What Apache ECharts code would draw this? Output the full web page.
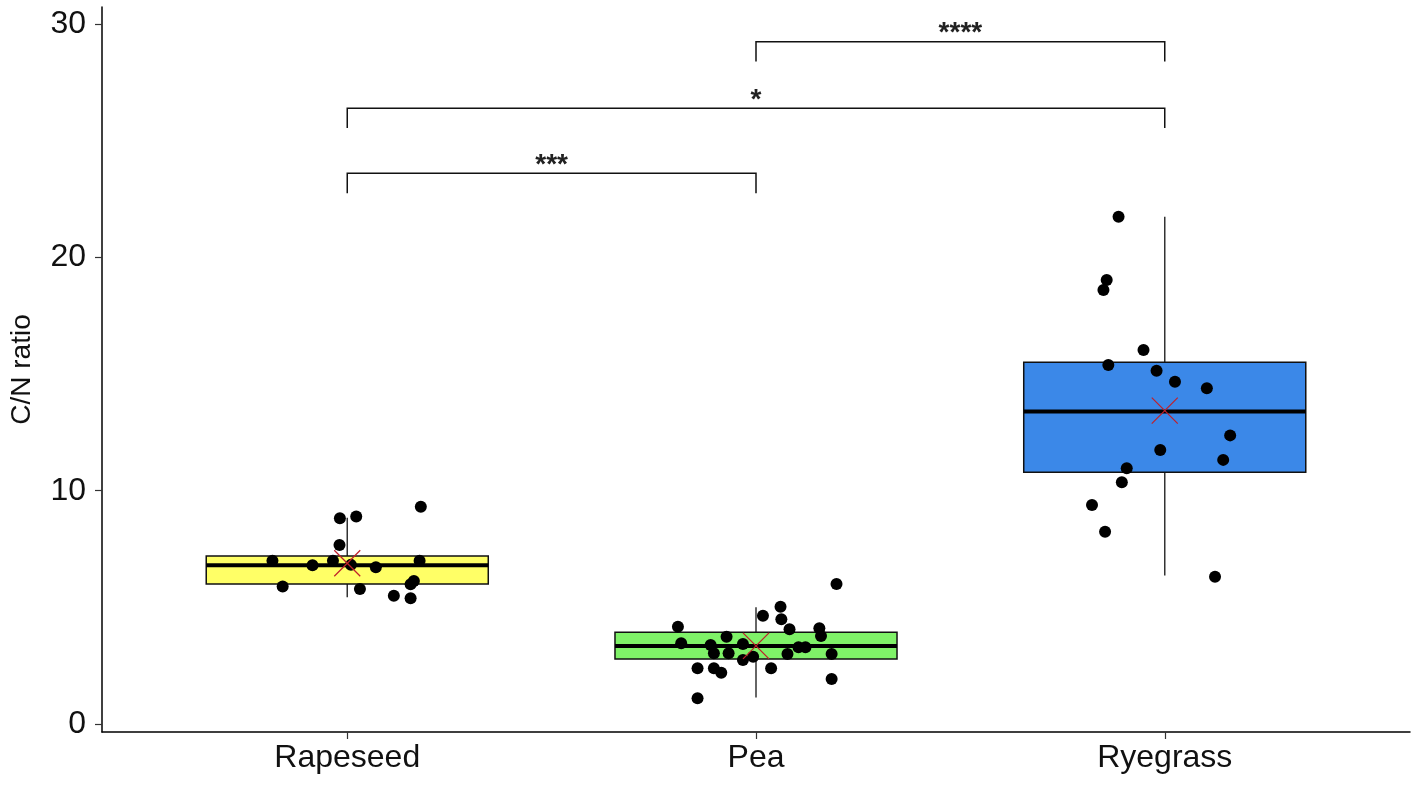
<!DOCTYPE html>
<html>
<head>
<meta charset="utf-8">
<script src="https://cdn.jsdelivr.net/npm/echarts@6/dist/echarts.min.js"></script>
<style>
  html, body { margin: 0; padding: 0; background: #fff; }
  #chart { width: 1418px; height: 792px; }
</style>
</head>
<body>
<div id="chart"></div>
<script>
const categories = ['Rapeseed', 'Pea', 'Ryegrass'];
const yTicks = [0, 10, 20, 30];

const rapeseedValues = [8.82, 8.89, 9.31, 7.67, 7.00, 6.80, 7.00, 6.82, 6.72, 7.00, 5.89, 5.79, 5.50, 5.99, 6.13, 5.39];
const rapeseedJitter = [-0.018, 0.022, 0.180, -0.019, -0.183, -0.085, -0.035, 0.009, 0.070, 0.177, -0.158, 0.031, 0.114, 0.155, 0.163, 0.155];

const peaValues = [6.00, 5.03, 4.64, 4.49, 4.17, 4.06, 4.10, 3.77, 3.74, 3.46, 3.39, 3.43, 3.03, 3.03, 3.00, 3.29, 3.29, 3.00, 2.88, 2.74, 2.39, 2.39, 2.20, 2.39, 1.93, 1.10];
const peaJitter = [0.197, 0.060, 0.017, 0.062, -0.191, 0.082, 0.155, 0.159, -0.072, -0.183, -0.111, -0.032, -0.103, -0.067, 0.077, 0.104, 0.121, 0.185, -0.007, -0.032, -0.143, -0.103, -0.085, 0.037, 0.185, -0.143];

const ryegrassValues = [21.74, 19.03, 18.60, 16.03, 15.39, 15.14, 14.67, 14.39, 12.37, 11.74, 11.32, 10.96, 10.36, 9.39, 8.24, 6.31];
const ryegrassJitter = [-0.113, -0.142, -0.150, -0.052, -0.138, -0.020, 0.025, 0.103, 0.160, -0.011, 0.143, -0.093, -0.105, -0.178, -0.146, 0.123];

// box statistics per category
const whiskerLow = [5.43, 1.14, 6.36];
const q1 = [6.00, 2.79, 10.79];
const median = [6.80, 3.34, 13.39];
const q3 = [7.20, 3.93, 15.50];
const whiskerHigh = [8.84, 5.00, 21.74];
const means = [6.89, 3.35, 13.43];

// significance brackets: from category, to category, height, label
const bracketFrom = [2, 1, 1];
const bracketTo = [3, 3, 2];
const bracketY = [29.24, 26.39, 23.60];
const bracketLabels = ['****', '*', '***'];

const boxColors = ['#ffff66', '#7ff268', '#3b88e8'];
const boxHalfWidth = 0.345;
const tipLength = 0.85;

const groups = [
  [rapeseedValues, rapeseedJitter],
  [peaValues, peaJitter],
  [ryegrassValues, ryegrassJitter]
];

const pointData = [];
groups.forEach(([vals, jit], i) => {
  vals.forEach((v, k) => pointData.push([i + 1 + jit[k], v]));
});

const boxData = categories.map((c, i) => [i + 1, whiskerLow[i], q1[i], median[i], q3[i], whiskerHigh[i]]);
const meanData = means.map((m, i) => [i + 1, m]);
const bracketData = bracketLabels.map((lab, i) => [bracketFrom[i], bracketTo[i], bracketY[i], lab]);

function renderBox(params, api) {
  const i = params.dataIndex;
  const x = api.value(0);
  const lo = api.coord([x, api.value(1)]);
  const b1 = api.coord([x - boxHalfWidth, api.value(2)]);
  const med = api.coord([x, api.value(3)]);
  const b3 = api.coord([x + boxHalfWidth, api.value(4)]);
  const hi = api.coord([x, api.value(5)]);
  const left = b1[0], right = b3[0];
  return {
    type: 'group',
    children: [
      { type: 'line', shape: { x1: hi[0], y1: hi[1], x2: hi[0], y2: b3[1] }, style: { stroke: '#333', lineWidth: 1.5 } },
      { type: 'line', shape: { x1: lo[0], y1: b1[1], x2: lo[0], y2: lo[1] }, style: { stroke: '#333', lineWidth: 1.5 } },
      { type: 'rect', shape: { x: left, y: b3[1], width: right - left, height: b1[1] - b3[1] },
        style: { fill: boxColors[i], stroke: '#111', lineWidth: 1.5 } },
      { type: 'line', shape: { x1: left, y1: med[1], x2: right, y2: med[1] }, style: { stroke: '#000', lineWidth: 4 } }
    ]
  };
}

function renderMean(params, api) {
  const p = api.coord([api.value(0), api.value(1)]);
  const s = 13;
  return {
    type: 'group',
    children: [
      { type: 'line', shape: { x1: p[0] - s, y1: p[1] - s, x2: p[0] + s, y2: p[1] + s }, style: { stroke: '#c0202a', lineWidth: 1.2 } },
      { type: 'line', shape: { x1: p[0] - s, y1: p[1] + s, x2: p[0] + s, y2: p[1] - s }, style: { stroke: '#c0202a', lineWidth: 1.2 } }
    ]
  };
}

function renderBracket(params, api) {
  const y = api.value(2);
  const a = api.coord([api.value(0), y]);
  const b = api.coord([api.value(1), y]);
  const aTip = api.coord([api.value(0), y - tipLength]);
  return {
    type: 'group',
    children: [
      { type: 'polyline',
        shape: { points: [[a[0], aTip[1]], a, b, [b[0], aTip[1]]] },
        style: { fill: null, stroke: '#111', lineWidth: 1.5 } },
      { type: 'text',
        style: { x: (a[0] + b[0]) / 2, y: a[1] - 8, text: bracketData[params.dataIndex][3],
          fill: '#222', font: 'bold 28px "Liberation Sans", Arial, sans-serif',
          align: 'center', verticalAlign: 'middle' } }
    ]
  };
}

const chart = echarts.init(document.getElementById('chart'));
chart.setOption({
  animation: false,
  backgroundColor: '#fff',
  grid: { left: 100, right: 8, top: 7, bottom: 60 },
  xAxis: {
    type: 'value',
    min: 0.4,
    max: 3.6,
    splitLine: { show: false },
    axisLine: { show: true, onZero: false, lineStyle: { color: '#000', width: 1.5 } },
    axisTick: { show: true, customValues: [1, 2, 3], length: 7, lineStyle: { color: '#333', width: 1.2 } },
    axisLabel: {
      customValues: [1, 2, 3],
      formatter: v => categories[Math.round(v) - 1],
      fontFamily: '"Liberation Sans", Arial, sans-serif',
      fontSize: 32,
      color: '#111',
      margin: 10
    }
  },
  yAxis: {
    type: 'value',
    min: -0.343,
    max: 30.73,
    splitLine: { show: false },
    axisLine: { show: true, onZero: false, lineStyle: { color: '#000', width: 1.5 } },
    axisTick: { show: true, customValues: yTicks, length: 7, lineStyle: { color: '#333', width: 1.2 } },
    axisLabel: {
      customValues: yTicks,
      fontFamily: '"Liberation Sans", Arial, sans-serif',
      fontSize: 32,
      color: '#111',
      margin: 16
    },
    name: 'C/N ratio',
    nameLocation: 'middle',
    nameRotate: 90,
    nameGap: 66,
    nameTextStyle: {
      fontFamily: '"Liberation Sans Narrow", "Arial Narrow", "Liberation Sans", sans-serif',
      fontSize: 28,
      color: '#111'
    }
  },
  series: [
    { type: 'custom', renderItem: renderBox, data: boxData, z: 2, silent: true },
    { type: 'scatter', data: pointData, symbol: 'circle', symbolSize: 12,
      itemStyle: { color: '#000', opacity: 1 }, z: 3, silent: true },
    { type: 'custom', renderItem: renderMean, data: meanData, z: 4, silent: true },
    { type: 'custom', renderItem: renderBracket, data: bracketData, z: 5, silent: true, clip: false }
  ]
});
</script>
</body>
</html>
